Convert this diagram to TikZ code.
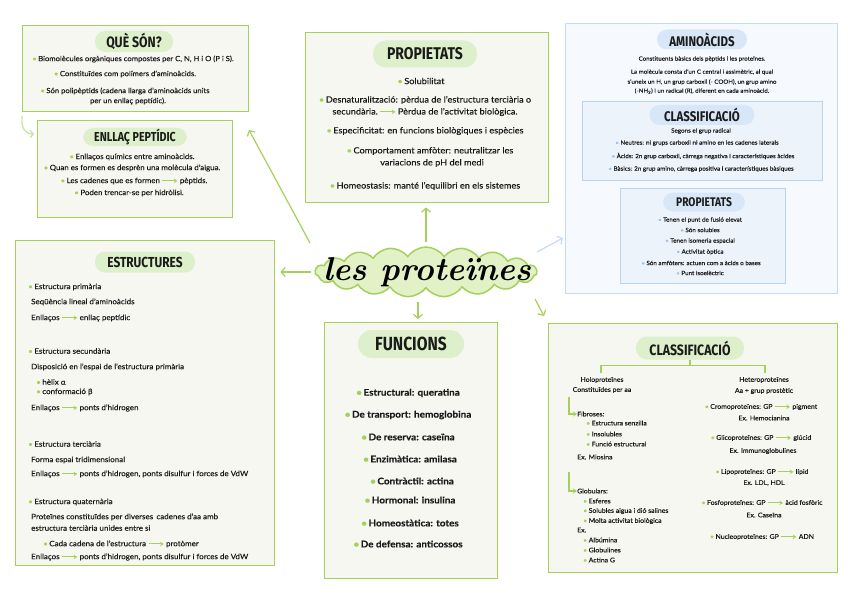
\documentclass[tikz,border=0pt]{standalone}
\usepackage{fontspec}
\setmainfont{Lato}[FakeStretch=1.08,FakeBold=0.15]
\newfontfamily\ttl{Fira Sans}[FakeStretch=0.82]
\usetikzlibrary{shapes.symbols,arrows.meta}
\definecolor{gB}{HTML}{A6D05C}
\definecolor{gL}{HTML}{C9E3A0}
\definecolor{boxF}{HTML}{F5F7F0}
\definecolor{pillG}{HTML}{DDF0CB}
\definecolor{bB}{HTML}{C4DCF5}
\definecolor{bF}{HTML}{F6F9FD}
\definecolor{bIn}{HTML}{EDF3FB}
\definecolor{bInB}{HTML}{B9D4EF}
\definecolor{pillB}{HTML}{D8E7F8}
\definecolor{txt}{HTML}{1A1A1A}
\definecolor{titF}{HTML}{E2F2C6}
\definecolor{bulB}{HTML}{9CC3EC}
\newcommand\gbul{{\color{gB}\textbullet}\hspace{1.5pt}}
\newcommand\bbul{{\color{bulB}\textbullet}\hspace{1.5pt}}
\newcommand\garw{\hspace{2pt}\tikz[baseline=-0.6ex]\draw[gB,line width=1pt,-{Stealth[length=3.5pt,width=4.5pt]}] (0pt,0pt)--(15pt,0pt);\hspace{2pt}}
\newcommand\fsz[1]{\fontsize{#1}{#1}\selectfont}
\begin{document}
\begin{tikzpicture}[x=1pt,y=-1pt,
  gbox/.style={draw=gB,line width=1.4pt,fill=boxF,anchor=north west,inner sep=0pt,rectangle},
  bbox/.style={draw=bB,line width=1.2pt,fill=bF,anchor=north west,inner sep=0pt,rectangle},
  bibox/.style={draw=bInB,line width=1.2pt,fill=bIn,anchor=north west,inner sep=0pt,rectangle},
  gpill/.style={fill=pillG,rounded corners=10pt,inner sep=0pt,text=txt},
  bpill/.style={fill=pillB,rounded corners=10pt,inner sep=0pt,text=txt},
  tx/.style={inner sep=0pt,text=txt},
  lt/.style={tx,anchor=west},
  garrow/.style={draw=gB,line width=1.2pt,-{Straight Barb[length=4pt,width=9pt]}},
  barrow/.style={draw=bB,line width=1.2pt,-{Straight Barb[length=4pt,width=9pt]}},
  gline/.style={draw=gB,line width=1.2pt},
  ttlf/.style={font=\ttl\bfseries\fsz{#1}},
]
\fill[white] (0,0) rectangle (848,599);
\useasboundingbox (0,0) rectangle (848,599);

% ---------- QUÈ SÓN ----------
\node[gbox,minimum width=226pt,minimum height=86pt] (qsB) at (22,25) {};
\node[gpill,minimum width=78pt,minimum height=21pt,ttlf=15] (qsT) at (134,41.5) {QUÈ SÓN?};
\begin{scope}[every node/.style={tx,font=\fsz{7.1}}]
\node (q1) at (133,59) {\gbul Biomolècules orgàniques compostes per C, N, H i O (P i S).};
\node (q2) at (125,74) {\gbul Constituïdes com polímers d’aminoàcids.};
\node (q3) at (125,91) {\gbul Són polipèptids (cadena llarga d’aminoàcids units};
\node (q4) at (128,101) {per un enllaç peptídic).};
\end{scope}

% ---------- ENLLAÇ PEPTÍDIC ----------
\node[gbox,minimum width=195pt,minimum height=97pt] (epB) at (37,120) {};
\node[gpill,minimum width=104pt,minimum height=18pt,ttlf=13] (epT) at (135,137) {ENLLAÇ PEPTÍDIC};
\begin{scope}[every node/.style={tx,font=\fsz{7.3}}]
\node (e1) at (132,157) {\gbul Enllaços químics entre aminoàcids.};
\node (e2) at (132,168) {\gbul Quan es formen es desprèn una molècula d’aigua.};
\node (e3) at (134,181) {\gbul Les cadenes que es formen\garw pèptids.};
\node (e4) at (129,193) {\gbul Poden trencar-se per hidròlisi.};
\end{scope}
\coordinate (cq0) at (22,116);
\coordinate (cq1) at (34,134);
\draw[draw=gL,line width=1.2pt,-{Straight Barb[length=3pt,width=7pt]}] (cq0) .. controls (21,128) and (25,134) .. (cq1);

% ---------- PROPIETATS ----------
\node[gbox,minimum width=243pt,minimum height=170pt] (prB) at (305,32) {};
\node[gpill,minimum width=104pt,minimum height=27pt,rounded corners=13pt,ttlf=17] (prT) at (425,54) {PROPIETATS};
\begin{scope}[every node/.style={tx,font=\fsz{8.5}}]
\node (p1) at (421,81) {\gbul Solubilitat};
\node (p2) at (425,100) {\gbul Desnaturalització: pèrdua de l’estructura terciària o};
\node (p3) at (425,112) {secundària.\garw Pèrdua de l’activitat biològica.};
\node (p4) at (425,131) {\gbul Especificitat: en funcions biològiques i espècies};
\node (p5) at (430,151) {\gbul Comportament amfòter: neutralitzar les};
\node (p6) at (432,163) {variacions de pH del medi};
\node (p7) at (425,186) {\gbul Homeostasis: manté l’equilibri en els sistemes};
\end{scope}

% ---------- AMINOÀCIDS ----------
\node[bbox,minimum width=272pt,minimum height=270pt] (amB) at (565,23) {};
\node[bpill,minimum width=90pt,minimum height=20pt,ttlf=14] (amT) at (702,39.5) {AMINOÀCIDS};
\begin{scope}[every node/.style={tx,font=\fsz{5.7}}]
\node (a1) at (702,59) {Constituents bàsics dels pèptids i les proteïnes.};
\node (a2) at (702,72) {La molècula consta d’un C central i assimètric, al qual};
\node (a3) at (702,82) {s’uneix un H, un grup carboxil (- COOH), un grup amino};
\node (a4) at (702,91) {(-NH\textsubscript{2}) i un radical (R), diferent en cada aminoàcid.};
\end{scope}
\node[bibox,minimum width=240pt,minimum height=79pt] (acB) at (582,101) {};
\node[bpill,minimum width=105pt,minimum height=20pt,ttlf=14] (acT) at (702,115) {CLASSIFICACIÓ};
\begin{scope}[every node/.style={tx,font=\fsz{5.8}}]
\node (c0) at (701,131) {Segons el grup radical};
\node (c1) at (697,143) {\bbul Neutres: ni grups carboxil ni amino en les cadenes laterals};
\node (c2) at (703,156) {\bbul Àcids: 2n grup carboxil, càrrega negativa i característiques àcides};
\node (c3) at (701,169) {\bbul Bàsics: 2n grup amino, càrrega positiva i característiques bàsiques};
\end{scope}
\node[bibox,minimum width=165pt,minimum height=95pt] (apB) at (620,188) {};
\node[bpill,minimum width=82pt,minimum height=19pt,ttlf=12.5] (apT) at (704,202) {PROPIETATS};
\begin{scope}[every node/.style={tx,font=\fsz{5.8}}]
\node (r1) at (700,220) {\bbul Tenen el punt de fusió elevat};
\node (r2) at (700,230) {\bbul Són solubles};
\node (r3) at (700,241) {\bbul Tenen isomeria espacial};
\node (r4) at (700,252) {\bbul Activitat òptica};
\node (r5) at (701,263) {\bbul Són amfòters: actuen com a àcids o bases};
\node (r6) at (700,273) {\bbul Punt isoelèctric};
\end{scope}

% ---------- ESTRUCTURES ----------
\node[gbox,minimum width=259pt,minimum height=325pt] (esB) at (15,240) {};
\node[gpill,minimum width=100pt,minimum height=21pt,ttlf=14.5] (esT) at (145,262) {ESTRUCTURES};
\begin{scope}[every node/.style={lt,font=\fsz{7.4}}]
\node (s1) at (28,287) {\gbul Estructura primària};
\node (s2) at (31,302) {Seqüència lineal d’aminoàcids};
\node (s3) at (31,318) {Enllaços\garw enllaç peptídic};
\node (s4) at (28,351) {\gbul Estructura secundària};
\node (s5) at (31,367) {Disposició en l’espai de l’estructura primària};
\node (s6) at (36,382) {\gbul hèlix α};
\node (s7) at (36,392) {\gbul conformació β};
\node (s8) at (31,408) {Enllaços\garw ponts d’hidrogen};
\node (s9) at (28,444) {\gbul Estructura terciària};
\node (s10) at (31,460) {Forma espai tridimensional};
\node (s11) at (31,474) {Enllaços\garw ponts d’hidrogen, ponts disulfur i forces de VdW};
\node (s12) at (28,502) {\gbul Estructura quaternària};
\node (s13) at (31,517) {Proteïnes constituïdes per diverses\, cadenes d’aa amb};
\node (s14) at (31,528) {estructura terciària unides entre si};
\node (s15) at (43,544) {\gbul Cada cadena de l’estructura\garw protòmer};
\node (s16) at (31,557) {Enllaços\garw ponts d’hidrogen, ponts disulfur i forces de VdW};
\end{scope}

% ---------- TITLE ----------
\node[cloud,cloud puffs=19,cloud puff arc=110,aspect=4.2,draw=gB,line width=1.5pt,fill=titF,
      minimum width=222pt,minimum height=50pt,inner sep=0pt] (tit) at (426,272) {};
\node[tx,text=black,font=\fontspec{Latin Modern Roman}\bfseries\itshape\fsz{33}] (titT) at (427,272) {les proteïnes};

% ---------- FUNCIONS ----------
\node[gbox,minimum width=173pt,minimum height=256pt] (fuB) at (324,322) {};
\node[gpill,minimum width=106pt,minimum height=28pt,rounded corners=14pt,ttlf=19] (fuT) at (411,344) {FUNCIONS};
\begin{scope}[every node/.style={tx,font=\bfseries\fsz{9.2}}]
\node (f1) at (408,393) {\gbul Estructural: queratina};
\node (f2) at (408,415) {\gbul De transport: hemoglobina};
\node (f3) at (408,437) {\gbul De reserva: caseïna};
\node (f4) at (410,459) {\gbul Enzimàtica: amilasa};
\node (f5) at (412,481) {\gbul Contràctil: actina};
\node (f6) at (410,500) {\gbul Hormonal: insulina};
\node (f7) at (410,523) {\gbul Homeostàtica: totes};
\node (f8) at (408,544) {\gbul De defensa: anticossos};
\end{scope}

% ---------- CLASSIFICACIÓ ----------
\node[gbox,minimum width=289pt,minimum height=249pt] (clB) at (548,323) {};
\node[gpill,minimum width=108pt,minimum height=23pt,rounded corners=11pt,ttlf=15] (clT) at (690,348) {CLASSIFICACIÓ};
\coordinate (holo) at (601,373);
\coordinate (hetero) at (765,373);
\draw[gline] (clT.south) -- ++(0,6) coordinate (tj);
\draw[gline] (holo) |- (tj) -| (hetero);
\begin{scope}[every node/.style={tx,font=\fsz{6.4}}]
\node (h1) at (602,380) {Holoproteïnes};
\node (h2) at (602,390) {Constituïdes per aa};
\node (k1) at (764,380) {Heteroproteïnes};
\node (k2) at (764,391) {Aa + grup prostètic};
\node (k3) at (761,407) {\gbul Cromoproteïnes: GP\garw pigment};
\node (k4) at (764,418) {Ex. Hemocianina};
\node (k5) at (761,438) {\gbul Glicoproteïnes: GP\garw glúcid};
\node (k6) at (763,451) {Ex. Immunoglobulines};
\node (k7) at (762,472) {\gbul Lipoproteïnes: GP\garw lípid};
\node (k8) at (764,483) {Ex. LDL, HDL};
\node (k9) at (762,503) {\gbul Fosfoproteïnes: GP\garw àcid fosfòric};
\node (k10) at (764,515) {Ex. Caseïna};
\node (k11) at (762,537) {\gbul Nucleoproteïnes: GP\garw ADN};
\end{scope}
\begin{scope}[every node/.style={lt,font=\fsz{6.4}}]
\node (fib) at (577,414) {Fibroses:};
\node (fb1) at (586,423) {\gbul Estructura senzilla};
\node (fb2) at (586,434) {\gbul Insolubles};
\node (fb3) at (586,444) {\gbul Funció estructural};
\node (fb4) at (577,457) {Ex. Miosina};
\node (glo) at (577,491) {Globulars:};
\node (gl1) at (583,501) {\gbul Esferes};
\node (gl2) at (583,511) {\gbul Solubles aigua i dió salines};
\node (gl3) at (583,521) {\gbul Molta activitat biològica};
\node (gl4) at (577,530) {Ex.};
\node (gl5) at (583,540) {\gbul Albúmina};
\node (gl6) at (583,550) {\gbul Globulines};
\node (gl7) at (583,560) {\gbul Actina G};
\end{scope}
\coordinate (fb0) at (569,397);
\coordinate (gb0) at (569,472);
\draw[gline,-{Stealth[length=4pt,width=5pt]}] (fb0) |- (fib.west);
\draw[gline,-{Stealth[length=4pt,width=5pt]}] (gb0) |- (glo.west);

% ---------- CONNECTORS FROM TITLE ----------
\coordinate (t1) at (310,243);
\coordinate (t1e) at (249,130);
\draw[garrow] (t1) -- (t1e);
\draw[garrow] ([xshift=-3pt]tit.west) -- ([xshift=5pt]esB.east |- tit.west);
\coordinate (t3) at (426,242);
\draw[garrow] (t3) -- ([yshift=-4pt]prB.south -| t3);
\coordinate (t4) at (418,302);
\draw[garrow] (t4) -- ([yshift=3pt]fuB.north -| t4);
\coordinate (t5) at (535,299);
\coordinate (t5e) at (544,316);
\draw[garrow] (t5) -- (t5e);
\coordinate (t6) at (537,252);
\coordinate (t6e) at (563,238);
\draw[barrow] (t6) -- (t6e);
\end{tikzpicture}
\end{document}
